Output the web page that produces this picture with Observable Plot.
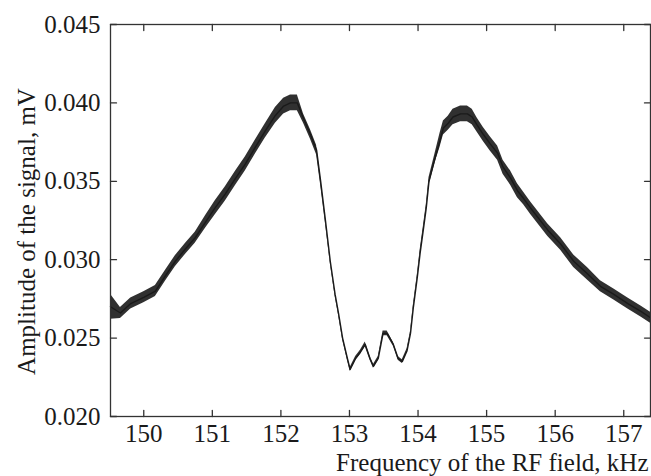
<!DOCTYPE html>
<html>
<head>
<meta charset="utf-8">
<script src="https://cdn.jsdelivr.net/npm/d3@7"></script>
<script src="https://cdn.jsdelivr.net/npm/@observablehq/plot@0.6"></script>
<style>
  html, body { margin: 0; padding: 0; background: #fff; }
  #chart { width: 651px; height: 476px; }
</style>
</head>
<body>
<div id="chart"></div>
<script>
// Frequency of the RF field, kHz
const freq = [149.515, 149.66, 149.81, 150.00, 150.17, 150.32, 150.46, 150.61, 150.75, 150.90,
  151.04, 151.19, 151.34, 151.48, 151.63, 151.77, 151.92, 152.04, 152.14, 152.24,
  152.33, 152.43, 152.52, 152.58, 152.65, 152.72, 152.79, 152.84, 152.90, 152.97,
  153.01, 153.09, 153.16, 153.23, 153.30, 153.35, 153.42, 153.49, 153.55, 153.64,
  153.71, 153.77, 153.84, 153.89, 153.93, 153.99, 154.03, 154.08, 154.12, 154.16,
  154.25, 154.32, 154.37, 154.44, 154.51, 154.62, 154.72, 154.79, 154.86, 154.95,
  155.05, 155.16, 155.24, 155.35, 155.45, 155.54, 155.64, 155.89, 156.08, 156.27,
  156.47, 156.66, 156.85, 157.06, 157.25, 157.39];
// Amplitude of the signal, mV (centre of the noisy trace)
const amp = [0.0270, 0.0266, 0.0272, 0.0276, 0.0280, 0.0290, 0.0299, 0.0307, 0.0314, 0.0324,
  0.0333, 0.0342, 0.0352, 0.0361, 0.0372, 0.0382, 0.0392, 0.0398, 0.0400, 0.0400,
  0.0390, 0.0380, 0.0370, 0.0350, 0.0325, 0.0299, 0.0278, 0.0266, 0.0250, 0.0237,
  0.0230, 0.0237, 0.0241, 0.0246, 0.0237, 0.0232, 0.0237, 0.0253, 0.0253, 0.0246,
  0.0237, 0.0235, 0.0242, 0.0253, 0.0269, 0.0289, 0.0304, 0.0320, 0.0333, 0.0350,
  0.0365, 0.0376, 0.0384, 0.0387, 0.0391, 0.0393, 0.0393, 0.0391, 0.0386, 0.0380,
  0.0374, 0.0368, 0.0359, 0.0352, 0.0344, 0.0339, 0.0333, 0.0319, 0.0310, 0.0299,
  0.0291, 0.0283, 0.0278, 0.0272, 0.0267, 0.0263];
// Half-width of the noise band, mV
const noise = [0.0008, 0.00035, 0.00035, 0.00035, 0.00035, 0.00035, 0.00035, 0.00035, 0.00035, 0.0004,
  0.00045, 0.00045, 0.00045, 0.00045, 0.00045, 0.00045, 0.0005, 0.0005, 0.0005, 0.0005,
  0.0003, 0.0003, 0.0003, 0.00025, 0.0002, 0.00012, 0.00012, 0.00012, 0.00012, 0.00012,
  0.00012, 0.00012, 0.00012, 0.00015, 0.00012, 0.00012, 0.00012, 0.00015, 0.00015, 0.00012,
  0.00012, 0.00012, 0.00012, 0.00012, 0.00015, 0.00015, 0.0002, 0.0002, 0.0002, 0.00025,
  0.0003, 0.00045, 0.00045, 0.00045, 0.0005, 0.0005, 0.0005, 0.0005, 0.00045, 0.00045,
  0.00045, 0.00045, 0.00045, 0.00045, 0.00045, 0.0004, 0.0004, 0.0004, 0.0004, 0.0004,
  0.0004, 0.00035, 0.00035, 0.00035, 0.00035, 0.00035];

const xTicks = [150, 151, 152, 153, 154, 155, 156, 157];
const yTicks = [0.020, 0.025, 0.030, 0.035, 0.040, 0.045];
const xDomain = [149.515, 157.39];
const yDomain = [0.020, 0.045];
const xLabel = "Frequency of the RF field, kHz";
const yLabel = "Amplitude of the signal, mV";

const data = freq.map((f, i) => ({f, a: amp[i], lo: amp[i] - noise[i], hi: amp[i] + noise[i]}));

const tickShape = {draw(ctx, l) { ctx.moveTo(0, 0); ctx.lineTo(0, -l); }};
const ink = "#1a1a1a";

const chart = Plot.plot({
  width: 651,
  height: 476,
  marginLeft: 110,
  marginRight: 1,
  marginTop: 24,
  marginBottom: 60,
  style: {fontFamily: "'Liberation Serif', 'Times New Roman', serif", fontSize: "25px", background: "#fff", color: ink},
  x: {domain: xDomain, label: null},
  y: {domain: yDomain, label: null},
  marks: [
    Plot.areaY(data, {x: "f", y1: "lo", y2: "hi", fill: ink, fillOpacity: 0.9}),
    Plot.line(data, {x: "f", y: "a", stroke: ink, strokeWidth: 1.4}),
    Plot.frame({stroke: "#333", strokeWidth: 1.3}),
    Plot.axisX(xTicks, {anchor: "bottom", tickSize: 0, tickPadding: 8, tickFormat: d => String(d), fill: ink}),
    Plot.axisY(yTicks, {anchor: "left", tickSize: 0, tickPadding: 10, tickFormat: d3.format(".3f"), fill: ink}),
    // inward ticks on all four sides
    Plot.vector(xTicks, {x: d => d, y: yDomain[0], length: 6, anchor: "start", rotate: 0, shape: tickShape, stroke: "#333", strokeWidth: 1.3}),
    Plot.vector(xTicks, {x: d => d, y: yDomain[1], length: 6, anchor: "start", rotate: 180, shape: tickShape, stroke: "#333", strokeWidth: 1.3}),
    Plot.vector(yTicks, {y: d => d, x: xDomain[0], length: 6, anchor: "start", rotate: 90, shape: tickShape, stroke: "#333", strokeWidth: 1.3}),
    Plot.vector(yTicks, {y: d => d, x: xDomain[1], length: 6, anchor: "start", rotate: -90, shape: tickShape, stroke: "#333", strokeWidth: 1.3}),
    Plot.text([xLabel], {frameAnchor: "bottom-right", textAnchor: "end", lineAnchor: "bottom", dx: -2, dy: 54, fill: ink}),
    Plot.text([yLabel], {frameAnchor: "left", textAnchor: "middle", lineAnchor: "bottom", rotate: -90, dx: -76, dy: 11, fill: ink})
  ]
});
document.getElementById("chart").appendChild(chart);
</script>
</body>
</html>
